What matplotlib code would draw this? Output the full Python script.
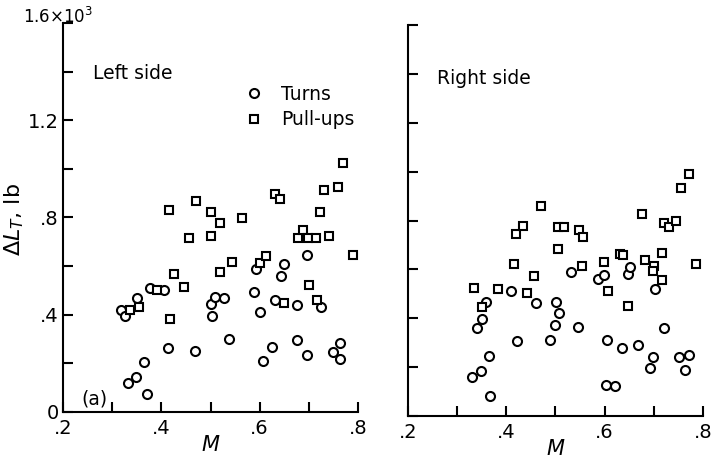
import numpy as np
import matplotlib
matplotlib.use("Agg")
import matplotlib.pyplot as plt
from matplotlib.lines import Line2D

plt.rcParams['font.family'] = ['DejaVu Sans']
plt.rcParams['mathtext.fontset'] = 'dejavusans'

# left side, turns (circles)
left_turns_M = [0.317, 0.327, 0.350, 0.376, 0.406, 0.364, 0.349, 0.333, 0.370, 0.413,
                0.469, 0.538, 0.502, 0.510, 0.527, 0.503, 0.588, 0.593, 0.601, 0.606,
                0.625, 0.632, 0.643, 0.649, 0.675, 0.676, 0.696, 0.696, 0.725, 0.749,
                0.763, 0.763]
left_turns_L = [0.421, 0.394, 0.469, 0.511, 0.503, 0.207, 0.144, 0.118, 0.072, 0.264,
                0.249, 0.301, 0.445, 0.472, 0.469, 0.393, 0.493, 0.590, 0.411, 0.208,
                0.268, 0.460, 0.559, 0.607, 0.438, 0.297, 0.646, 0.235, 0.431, 0.246,
                0.284, 0.216]
# left side, pull-ups (squares)
left_pull_M = [0.336, 0.354, 0.391, 0.417, 0.425, 0.415, 0.447, 0.457, 0.471, 0.502,
               0.519, 0.501, 0.520, 0.543, 0.564, 0.600, 0.613, 0.632, 0.642, 0.650,
               0.677, 0.688, 0.699, 0.715, 0.700, 0.717, 0.722, 0.730, 0.742, 0.759,
               0.770, 0.789]
left_pull_L = [0.418, 0.430, 0.503, 0.384, 0.567, 0.831, 0.512, 0.716, 0.869, 0.822,
               0.776, 0.725, 0.574, 0.615, 0.799, 0.614, 0.641, 0.897, 0.876, 0.448,
               0.717, 0.750, 0.717, 0.716, 0.524, 0.461, 0.824, 0.913, 0.722, 0.927,
               1.026, 0.644]

# right side, turns
right_turns_M = [0.330, 0.348, 0.366, 0.364, 0.351, 0.341, 0.358, 0.410, 0.421, 0.461,
                 0.489, 0.501, 0.507, 0.499, 0.545, 0.532, 0.586, 0.599, 0.605, 0.602,
                 0.622, 0.635, 0.647, 0.652, 0.667, 0.699, 0.693, 0.702, 0.721, 0.751,
                 0.771, 0.763]
right_turns_L = [0.160, 0.184, 0.082, 0.246, 0.396, 0.362, 0.467, 0.512, 0.305, 0.462,
                 0.310, 0.466, 0.421, 0.374, 0.366, 0.590, 0.559, 0.579, 0.310, 0.127,
                 0.122, 0.280, 0.581, 0.611, 0.292, 0.242, 0.198, 0.519, 0.359, 0.242,
                 0.249, 0.187]
# right side, pull-ups
right_pull_M = [0.335, 0.350, 0.383, 0.415, 0.419, 0.433, 0.442, 0.456, 0.471, 0.506,
                0.505, 0.518, 0.547, 0.556, 0.553, 0.598, 0.606, 0.632, 0.637, 0.647,
                0.675, 0.682, 0.700, 0.699, 0.717, 0.717, 0.720, 0.730, 0.745, 0.755,
                0.772, 0.786]
right_pull_L = [0.522, 0.447, 0.519, 0.623, 0.745, 0.776, 0.503, 0.571, 0.861, 0.683,
                0.775, 0.775, 0.762, 0.731, 0.615, 0.631, 0.512, 0.661, 0.658, 0.451,
                0.825, 0.639, 0.615, 0.594, 0.669, 0.557, 0.790, 0.772, 0.796, 0.933,
                0.990, 0.622]

fig = plt.figure(figsize=(7.12, 4.63), dpi=100)
axL = fig.add_axes([0.0885, 0.1102, 0.4143, 0.8402])
axR = fig.add_axes([0.573, 0.1015, 0.4143, 0.8445])

mk = dict(linestyle='none', markerfacecolor='white', markeredgecolor='black',
          markeredgewidth=1.5, color='black')

for ax, tm, tl, pm, pl in [(axL, left_turns_M, left_turns_L, left_pull_M, left_pull_L),
                           (axR, right_turns_M, right_turns_L, right_pull_M, right_pull_L)]:
    ax.plot(tm, tl, marker='o', markersize=6.5, **mk)
    ax.plot(pm, pl, marker='s', markersize=6, **mk)
    ax.set_xlim(0.2, 0.8)
    ax.set_ylim(0, 1.6)
    for s in ['top', 'right']:
        ax.spines[s].set_visible(False)
    for s in ['left', 'bottom']:
        ax.spines[s].set_linewidth(1.5)
    ax.set_xticks(np.arange(0.2, 0.81, 0.1))
    ax.set_xticklabels(['.2', '', '.4', '', '.6', '', '.8'])
    ax.set_yticks(np.arange(0, 1.61, 0.2))
    ax.tick_params(direction='in', length=7, width=1.5, labelsize=14)
    ax.tick_params(axis='y', pad=3)
    ax.tick_params(axis='x', pad=5)
    ax.set_xlabel('$M$', fontsize=15, labelpad=-2)

axL.set_yticklabels(['0', '', '.4', '', '.8', '', '1.2', '', ''])
axR.set_yticklabels([])
axL.text(0.19, 1.625, r'1.6$\times$10$^3$', ha='center', va='center', fontsize=12)
fig.text(0.02, 0.525, r'$\Delta L_T$, lb', rotation=90, ha='center', va='center',
         fontsize=16)

axL.text(0.26, 1.37, 'Left side', fontsize=13.5)
axR.text(0.26, 1.36, 'Right side', fontsize=13.5)
axL.text(0.237, 0.03, '(a)', fontsize=13.5)

handles = [Line2D([], [], marker='o', markersize=6.5, **mk),
           Line2D([], [], marker='s', markersize=6, **mk)]
axL.legend(handles, ['Turns', 'Pull-ups'], loc='upper left', bbox_to_anchor=(0.56, 0.885),
           frameon=False, fontsize=13.5, handlelength=1.0, handletextpad=0.9,
           labelspacing=0.35)

fig.savefig('out.png', dpi=100)
